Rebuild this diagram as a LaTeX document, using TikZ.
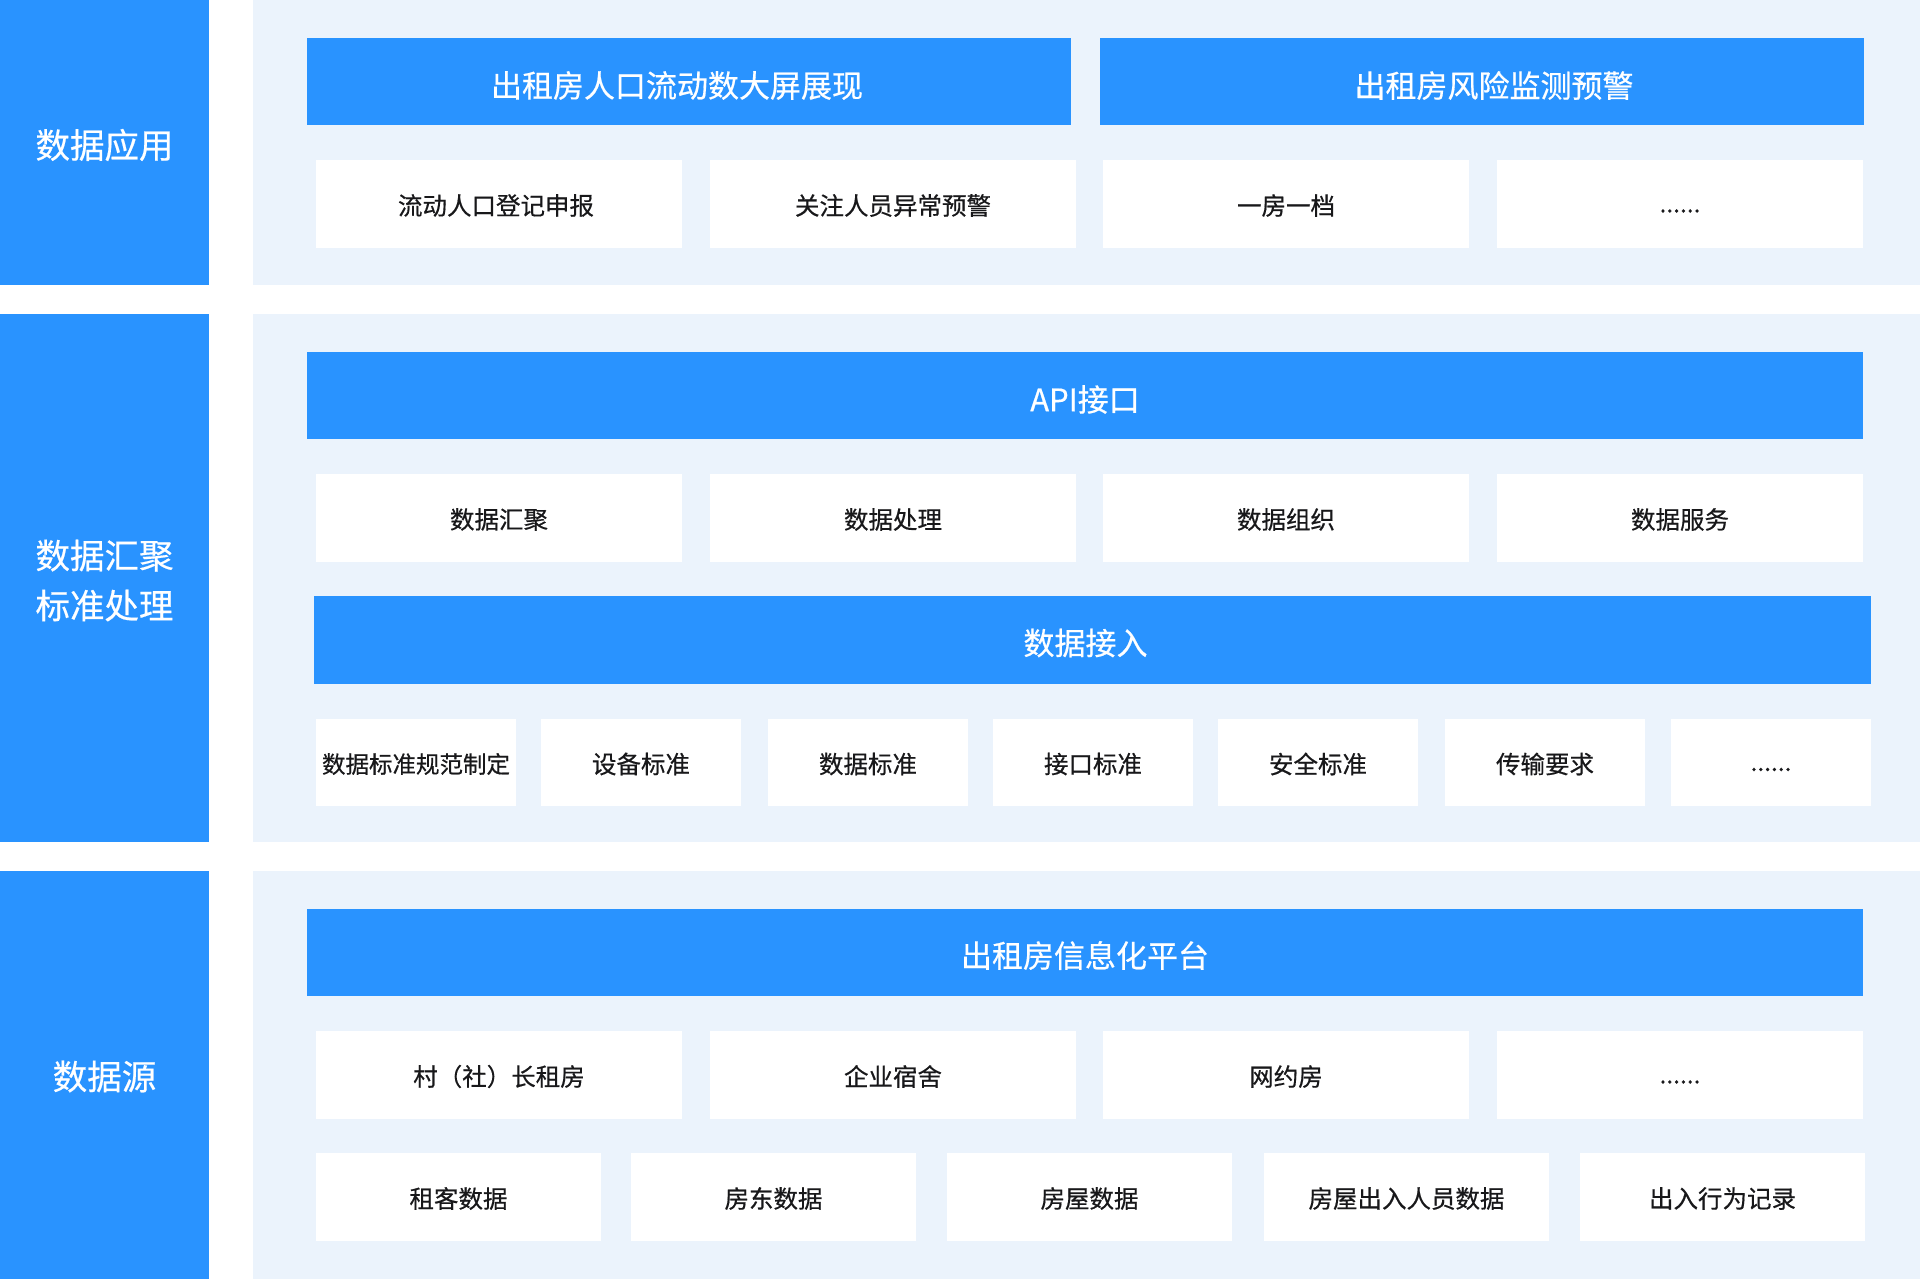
\documentclass[tikz,border=0pt]{standalone}
\usepackage{fontspec}
\setmainfont{Noto Sans CJK SC}
\newfontfamily\medfont{Noto Sans CJK SC}[FakeBold=0.5]
\definecolor{mainblue}{RGB}{41,147,255}
\definecolor{panelbg}{RGB}{235,243,252}
\definecolor{txtdark}{RGB}{24,24,26}
\newcommand{\dn}[2]{\raisebox{-#1}[\height][\depth]{#2}}
\tikzset{
  sidebox/.style={fill=mainblue, draw=none, inner sep=0pt, outer sep=0pt, anchor=north west, text=white, font=\medfont\fontsize{34.5pt}{50pt}\selectfont, align=center},
  panel/.style={fill=panelbg, draw=none, inner sep=0pt, outer sep=0pt, anchor=north west},
  barbox/.style={fill=mainblue, draw=none, inner sep=0pt, outer sep=0pt, anchor=north west, text=white, font=\medfont\fontsize{31pt}{36pt}\selectfont},
  itembox/.style={fill=white, draw=none, inner sep=0pt, outer sep=0pt, anchor=north west, text=txtdark, font=\medfont\fontsize{24.5pt}{28pt}\selectfont},
}
\begin{document}
\begin{tikzpicture}[x=1pt,y=-1pt]
\useasboundingbox (0,0) rectangle (1920,1279);
\fill[white] (0,0) rectangle (1920,1279);

% left column
\node[sidebox, minimum width=209pt, minimum height=285pt] (s1) at (0,0) {\dn{2.5pt}{数据应用}};
\node[sidebox, minimum width=209pt, minimum height=528pt] (s2) at (0,314) {\dn{2.5pt}{数据汇聚}\\\dn{2.5pt}{标准处理}};
\node[sidebox, minimum width=209pt, minimum height=408pt] (s3) at (0,871) {\dn{1.5pt}{数据源}};

% panels
\node[panel, minimum width=1667pt, minimum height=285pt] (p1) at (253,0) {};
\node[panel, minimum width=1667pt, minimum height=528pt] (p2) at (253,314) {};
\node[panel, minimum width=1667pt, minimum height=408pt] (p3) at (253,871) {};

% row 1
\node[barbox, minimum width=764pt, minimum height=87pt] (a1) at (307,38) {\dn{4pt}{出租房人口流动数大屏展现}\hspace*{24pt}};
\node[barbox, minimum width=764pt, minimum height=87pt] (a2) at (1100,38) {\hspace*{24pt}\dn{4pt}{出租房风险监测预警}};
\node[itembox, minimum width=366pt, minimum height=88pt] (a3) at (316,160) {\dn{1.5pt}{流动人口登记申报}\hspace*{6pt}};
\node[itembox, minimum width=366pt, minimum height=88pt] (a4) at (710,160) {\dn{1.5pt}{关注人员异常预警}};
\node[itembox, minimum width=366pt, minimum height=88pt] (a5) at (1103,160) {\dn{1.5pt}{一房一档}};
\node[itembox, minimum width=366pt, minimum height=88pt] (a6) at (1497,160) {\dn{7pt}{......}};

% row 2
\node[barbox, minimum width=1556pt, minimum height=87pt] (b1) at (307,352) {\dn{4pt}{API接口}};
\node[itembox, minimum width=366pt, minimum height=88pt] (b2) at (316,474) {\dn{1.5pt}{数据汇聚}};
\node[itembox, minimum width=366pt, minimum height=88pt] (b3) at (710,474) {\dn{1.5pt}{数据处理}};
\node[itembox, minimum width=366pt, minimum height=88pt] (b4) at (1103,474) {\dn{1.5pt}{数据组织}};
\node[itembox, minimum width=366pt, minimum height=88pt] (b5) at (1497,474) {\dn{1.5pt}{数据服务}};
\node[barbox, minimum width=1557pt, minimum height=88pt] (b6) at (314,596) {\dn{3pt}{数据接入}\hspace*{14pt}};
\node[itembox, minimum width=200pt, minimum height=87pt, font=\medfont\fontsize{23.5pt}{28pt}\selectfont] (c1) at (316,719) {\dn{1.5pt}{数据标准规范制定}};
\node[itembox, minimum width=200pt, minimum height=87pt] (c2) at (541,719) {\dn{1.5pt}{设备标准}};
\node[itembox, minimum width=200pt, minimum height=87pt] (c3) at (768,719) {\dn{1.5pt}{数据标准}};
\node[itembox, minimum width=200pt, minimum height=87pt] (c4) at (993,719) {\dn{1.5pt}{接口标准}};
\node[itembox, minimum width=200pt, minimum height=87pt] (c5) at (1218,719) {\dn{1.5pt}{安全标准}};
\node[itembox, minimum width=200pt, minimum height=87pt] (c6) at (1445,719) {\dn{1.5pt}{传输要求}};
\node[itembox, minimum width=200pt, minimum height=87pt] (c7) at (1671,719) {\dn{7pt}{......}};

% row 3
\node[barbox, minimum width=1556pt, minimum height=87pt] (d1) at (307,909) {\dn{3pt}{出租房信息化平台}};
\node[itembox, minimum width=366pt, minimum height=88pt] (d2) at (316,1031) {\dn{1.5pt}{村（社）长租房}};
\node[itembox, minimum width=366pt, minimum height=88pt] (d3) at (710,1031) {\dn{1.5pt}{企业宿舍}};
\node[itembox, minimum width=366pt, minimum height=88pt] (d4) at (1103,1031) {\dn{1.5pt}{网约房}};
\node[itembox, minimum width=366pt, minimum height=88pt] (d5) at (1497,1031) {\dn{7pt}{......}};
\node[itembox, minimum width=285pt, minimum height=88pt] (e1) at (316,1153) {\dn{1.5pt}{租客数据}};
\node[itembox, minimum width=285pt, minimum height=88pt] (e2) at (631,1153) {\dn{1.5pt}{房东数据}};
\node[itembox, minimum width=285pt, minimum height=88pt] (e3) at (947,1153) {\dn{1.5pt}{房屋数据}};
\node[itembox, minimum width=285pt, minimum height=88pt] (e4) at (1264,1153) {\dn{1.5pt}{房屋出入人员数据}};
\node[itembox, minimum width=285pt, minimum height=88pt] (e5) at (1580,1153) {\dn{1.5pt}{出入行为记录}};
\end{tikzpicture}
\end{document}
